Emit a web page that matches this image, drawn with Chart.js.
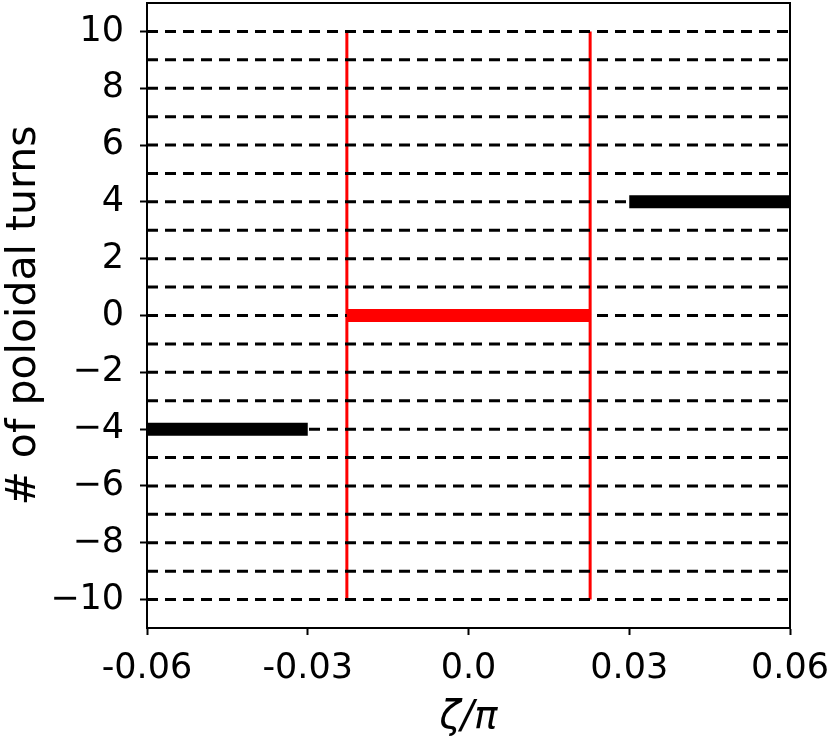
<!DOCTYPE html>
<html>
<head>
<meta charset="utf-8">
<script src="https://cdn.jsdelivr.net/npm/chart.js@4.4.1/dist/chart.umd.min.js"></script>
<style>
  html, body { margin: 0; padding: 0; background: #fff; }
  #wrap { width: 831px; height: 741px; }
</style>
</head>
<body>
<div id="wrap"><canvas id="chart" width="831" height="741"></canvas></div>
<script>
// axis ranges and ticks
const xRange = [-0.06, 0.06];
const yRange = [-11, 11];
const xTicks = [-0.06, -0.03, 0, 0.03, 0.06];
const xTickLabels = ['-0.06', '-0.03', '0.0', '0.03', '0.06'];
const yTicks = [-10, -8, -6, -4, -2, 0, 2, 4, 6, 8, 10];
const yTickLabels = ['\u221210', '\u22128', '\u22126', '\u22124', '\u22122', '0', '2', '4', '6', '8', '10'];

// dashed reference levels (every integer turn)
const dashLevels = [-10, -9, -8, -7, -6, -5, -4, -3, -2, -1, 0, 1, 2, 3, 4, 5, 6, 7, 8, 9, 10];

// red window edges and its level
const redEdges = [-0.0227, 0.0227];
const redSpan = [-10, 10];
const redLevel = 0;

// black segments outside the window
const blackLeftX = [-0.06, -0.03];
const blackLeftLevel = -4;
const blackRightX = [0.03, 0.06];
const blackRightLevel = 4;

const FONT = "'DejaVu Sans', sans-serif";

const dashData = [];
dashLevels.forEach(k => {
  dashData.push({ x: xRange[0], y: k }, { x: xRange[1], y: k }, { x: xRange[1], y: null });
});

const redVertData = [];
redEdges.forEach(x => {
  redVertData.push({ x: x, y: redSpan[0] }, { x: x, y: redSpan[1] }, { x: x, y: null });
});

const redFlatData = [{ x: redEdges[0], y: redLevel }, { x: redEdges[1], y: redLevel }];

const blackData = [
  { x: blackLeftX[0], y: blackLeftLevel }, { x: blackLeftX[1], y: blackLeftLevel },
  { x: blackLeftX[1], y: null },
  { x: blackRightX[0], y: blackRightLevel }, { x: blackRightX[1], y: blackRightLevel }
];

const lineDefaults = { pointRadius: 0, fill: false, spanGaps: false, tension: 0, borderCapStyle: 'butt' };

const frame = {
  id: 'frame',
  afterDatasetsDraw(chart) {
    const a = chart.chartArea, ctx = chart.ctx;
    ctx.save();
    ctx.strokeStyle = '#000';
    ctx.lineWidth = 2;
    ctx.strokeRect(a.left, a.top, a.right - a.left, a.bottom - a.top);
    ctx.restore();
  }
};

new Chart(document.getElementById('chart'), {
  type: 'line',
  data: {
    datasets: [
      Object.assign({ data: blackData, borderColor: '#000', borderWidth: 13, order: 0 }, lineDefaults),
      Object.assign({ data: redFlatData, borderColor: '#ff0000', borderWidth: 13, order: 1 }, lineDefaults),
      Object.assign({ data: dashData, borderColor: '#000', borderWidth: 3, borderDash: [11, 7], order: 2 }, lineDefaults),
      Object.assign({ data: redVertData, borderColor: '#ff0000', borderWidth: 3, order: 3 }, lineDefaults)
    ]
  },
  options: {
    responsive: false,
    animation: false,
    events: [],
    layout: { padding: { top: 3, right: 41, left: 0, bottom: 0 } },
    plugins: { legend: { display: false }, tooltip: { enabled: false } },
    scales: {
      x: {
        type: 'linear',
        min: xRange[0], max: xRange[1],
        afterBuildTicks: s => { s.ticks = xTicks.map(v => ({ value: v })); },
        afterFit: s => { s.height = 113; s.paddingLeft = 0; s.paddingRight = 0; },
        grid: { drawOnChartArea: false, drawTicks: true, tickLength: 7, tickWidth: 2, tickColor: '#000' },
        border: { display: true, color: '#000', width: 2 },
        ticks: {
          autoSkip: false, maxRotation: 0, color: '#000', padding: 13,
          font: { family: FONT, size: 35 },
          callback: (v, i) => xTickLabels[i]
        },
        title: {
          display: true, text: '\u03b6/\u03c0', color: '#000', padding: { top: 0, bottom: 0 },
          font: { family: FONT, size: 39, style: 'italic' }
        }
      },
      y: {
        type: 'linear',
        min: yRange[0], max: yRange[1],
        afterBuildTicks: s => { s.ticks = yTicks.map(v => ({ value: v })); },
        afterFit: s => { s.width = 147; s.paddingTop = 0; s.paddingBottom = 0; },
        grid: { drawOnChartArea: false, drawTicks: true, tickLength: 7, tickWidth: 2, tickColor: '#000' },
        border: { display: true, color: '#000', width: 2 },
        ticks: {
          autoSkip: false, color: '#000', padding: 16,
          font: { family: FONT, size: 35 },
          callback: (v, i) => yTickLabels[i]
        },
        title: {
          display: true, text: '# of poloidal turns', color: '#000', padding: { top: 0, bottom: 2 },
          font: { family: FONT, size: 41 }
        }
      }
    }
  },
  plugins: [frame]
});
</script>
</body>
</html>
